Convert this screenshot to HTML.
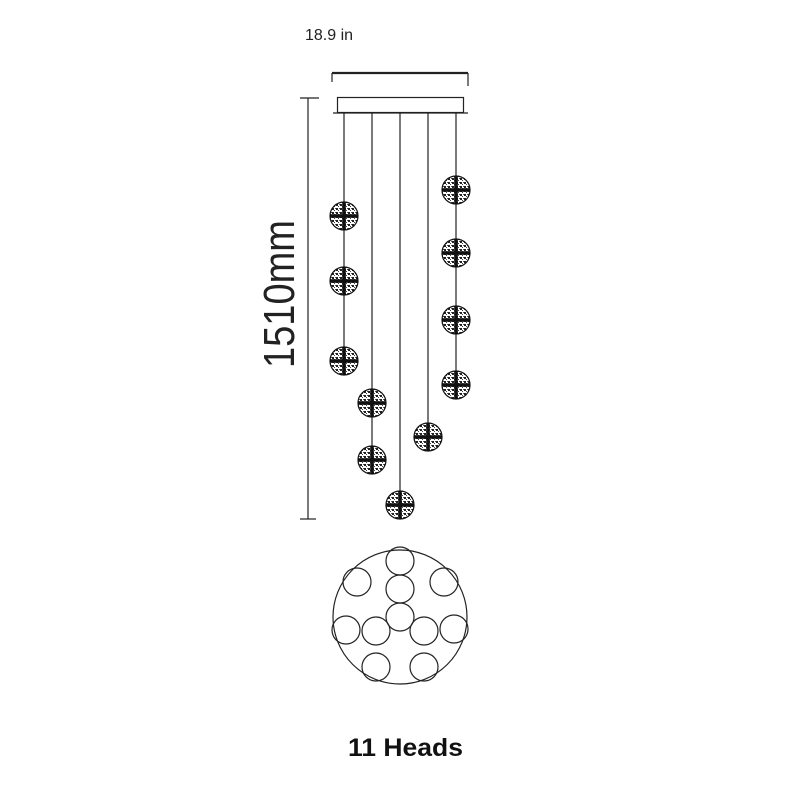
<!DOCTYPE html>
<html><head><meta charset="utf-8"><style>html,body{margin:0;padding:0;background:#fff}svg{display:block}</style></head>
<body>
<svg width="800" height="800" viewBox="0 0 800 800" xmlns="http://www.w3.org/2000/svg">
<defs>
<pattern id="dots" width="4" height="4" patternUnits="userSpaceOnUse">
<rect width="4" height="4" fill="#fff"/><rect width="2" height="2" fill="#222"/><rect x="2" y="2" width="1" height="1" fill="#444"/><rect x="3" y="0" width="1" height="1" fill="#555"/>
</pattern>
<g id="ball">
<circle r="14" fill="url(#dots)" stroke="#111" stroke-width="1.2"/>
<rect x="-14" y="-1.8" width="28" height="3.6" fill="#111"/>
<rect x="-1.8" y="-14" width="3.6" height="28" fill="#111"/>
</g>
</defs>
<text x="305" y="40" font-family="Liberation Sans, sans-serif" font-size="16" fill="#222">18.9 in</text>
<g stroke="#222" fill="none" stroke-width="1.2">
<line x1="332" y1="73" x2="468" y2="73" stroke-width="2.2"/>
<line x1="332" y1="73" x2="332" y2="82"/>
<line x1="468" y1="73" x2="468" y2="86"/>
<rect x="337.5" y="97.5" width="126" height="15"/>
<line x1="333" y1="113" x2="468" y2="113"/>
<line x1="300" y1="98" x2="319" y2="98"/>
<line x1="308" y1="98" x2="308" y2="519"/>
<line x1="300" y1="519" x2="316" y2="519"/>
<line x1="344" y1="113" x2="344" y2="361"/>
<line x1="372" y1="113" x2="372" y2="460"/>
<line x1="400" y1="113" x2="400" y2="505"/>
<line x1="428" y1="113" x2="428" y2="437"/>
<line x1="456" y1="113" x2="456" y2="385"/>
</g>
<use href="#ball" x="344" y="216"/><use href="#ball" x="344" y="281"/><use href="#ball" x="344" y="361"/>
<use href="#ball" x="372" y="403"/><use href="#ball" x="372" y="460"/>
<use href="#ball" x="400" y="505"/>
<use href="#ball" x="428" y="437"/>
<use href="#ball" x="456" y="190"/><use href="#ball" x="456" y="253"/><use href="#ball" x="456" y="320"/><use href="#ball" x="456" y="385"/>
<text transform="translate(294,368) rotate(-90)" font-family="Liberation Sans, sans-serif" font-size="44" textLength="148" lengthAdjust="spacingAndGlyphs" fill="#222">1510mm</text>
<g stroke="#222" fill="none" stroke-width="1.2">
<circle cx="400" cy="617" r="67"/>
<circle cx="400" cy="561" r="14"/>
<circle cx="357" cy="582" r="14"/>
<circle cx="444" cy="582" r="14"/>
<circle cx="400" cy="589" r="14"/>
<circle cx="400" cy="617" r="14"/>
<circle cx="346" cy="630" r="14"/>
<circle cx="376" cy="631" r="14"/>
<circle cx="424" cy="631" r="14"/>
<circle cx="454" cy="629" r="14"/>
<circle cx="376" cy="667" r="14"/>
<circle cx="424" cy="667" r="14"/>
</g>
<text x="348" y="756" font-family="Liberation Sans, sans-serif" font-weight="bold" font-size="25" textLength="115" lengthAdjust="spacingAndGlyphs" fill="#111">11 Heads</text>
</svg>
</body></html>
